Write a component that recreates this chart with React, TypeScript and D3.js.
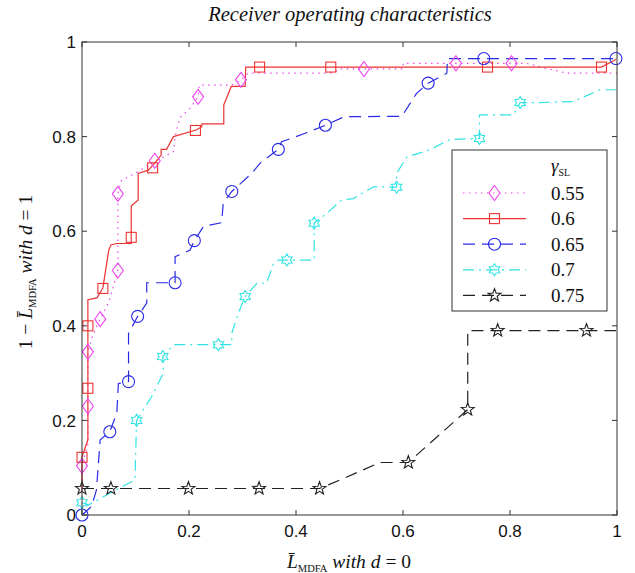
import React from "react";
import * as d3 from "d3";

type P = [number, number];

const title = "Receiver operating characteristics";
const xTicks = [0, 0.2, 0.4, 0.6, 0.8, 1];
const yTicks = [0, 0.2, 0.4, 0.6, 0.8, 1];
const tickLabels = ["0", "0.2", "0.4", "0.6", "0.8", "1"];
const legendLabels = ["0.55", "0.6", "0.65", "0.7", "0.75"];

// gamma_SL = 0.55
const line055: P[] = [
  [0, 0.06], [0, 0.104], [0.011, 0.15], [0.011, 0.345], [0.02, 0.38], [0.034, 0.414], [0.05, 0.45],
  [0.067, 0.517], [0.067, 0.68], [0.074, 0.708], [0.099, 0.722], [0.13, 0.744], [0.171, 0.768],
  [0.174, 0.8], [0.183, 0.84], [0.202, 0.86], [0.217, 0.884], [0.219, 0.909], [0.28, 0.909],
  [0.297, 0.92], [0.311, 0.934], [0.47, 0.934], [0.48, 0.943], [0.6, 0.943], [0.6, 0.955],
  [0.83, 0.955], [0.906, 0.934], [1, 0.934],
];
const mark055: P[] = [
  [0, 0.104], [0.011, 0.23], [0.011, 0.345], [0.034, 0.414], [0.067, 0.517], [0.067, 0.679],
  [0.136, 0.749], [0.217, 0.884], [0.297, 0.92], [0.527, 0.943], [0.699, 0.955], [0.803, 0.955],
];

// gamma_SL = 0.6
const line060: P[] = [
  [0, 0.05], [0, 0.123], [0.011, 0.159], [0.011, 0.455], [0.028, 0.459], [0.039, 0.48],
  [0.05, 0.56], [0.054, 0.571], [0.065, 0.574], [0.092, 0.574], [0.092, 0.653], [0.105, 0.666],
  [0.105, 0.722], [0.124, 0.729], [0.136, 0.744], [0.148, 0.761], [0.148, 0.773], [0.158, 0.773],
  [0.171, 0.8], [0.213, 0.814], [0.224, 0.821], [0.224, 0.827], [0.265, 0.827], [0.265, 0.867],
  [0.279, 0.906], [0.305, 0.906], [0.306, 0.947], [0.971, 0.947], [0.998, 0.963],
];
const mark060: P[] = [
  [0, 0.122], [0.011, 0.268], [0.011, 0.4], [0.039, 0.479], [0.092, 0.587], [0.132, 0.734],
  [0.212, 0.813], [0.332, 0.947], [0.465, 0.947], [0.758, 0.947], [0.971, 0.947],
];

// gamma_SL = 0.65
const line065: P[] = [
  [0, 0], [0.018, 0.018], [0.027, 0.053], [0.034, 0.159], [0.052, 0.176], [0.065, 0.215],
  [0.068, 0.278], [0.087, 0.282], [0.087, 0.384], [0.104, 0.42], [0.121, 0.448], [0.121, 0.491],
  [0.174, 0.491], [0.174, 0.546], [0.202, 0.56], [0.21, 0.58], [0.227, 0.61], [0.261, 0.618],
  [0.264, 0.659], [0.28, 0.684], [0.317, 0.722], [0.333, 0.744], [0.367, 0.773], [0.373, 0.789],
  [0.417, 0.807], [0.455, 0.824], [0.49, 0.842], [0.598, 0.843], [0.625, 0.891], [0.647, 0.913],
  [0.682, 0.934], [0.683, 0.965], [0.751, 0.965], [0.998, 0.965],
];
const mark065: P[] = [
  [0, 0], [0.052, 0.176], [0.087, 0.282], [0.104, 0.42], [0.174, 0.491], [0.21, 0.58],
  [0.28, 0.684], [0.367, 0.773], [0.455, 0.824], [0.647, 0.913], [0.751, 0.965], [0.998, 0.965],
];

// gamma_SL = 0.7
const line070: P[] = [
  [0, 0.026], [0.012, 0.021], [0.068, 0.056], [0.099, 0.074], [0.102, 0.2], [0.13, 0.25],
  [0.152, 0.3], [0.151, 0.335], [0.171, 0.36], [0.28, 0.36], [0.28, 0.384], [0.292, 0.426],
  [0.305, 0.462], [0.327, 0.49], [0.345, 0.49], [0.358, 0.532], [0.367, 0.539], [0.434, 0.539],
  [0.434, 0.617], [0.46, 0.64], [0.485, 0.666], [0.507, 0.669], [0.545, 0.694], [0.588, 0.693],
  [0.588, 0.722], [0.607, 0.757], [0.65, 0.772], [0.688, 0.794], [0.743, 0.796], [0.743, 0.846],
  [0.806, 0.846], [0.819, 0.872], [0.856, 0.872], [0.918, 0.874], [0.968, 0.899], [1, 0.899],
];
const mark070: P[] = [
  [0, 0.026], [0.102, 0.2], [0.151, 0.335], [0.255, 0.36], [0.305, 0.462], [0.383, 0.539],
  [0.434, 0.617], [0.588, 0.693], [0.743, 0.796], [0.819, 0.872],
];

// gamma_SL = 0.75
const line075: P[] = [
  [0, 0.056], [0.444, 0.056], [0.482, 0.074], [0.557, 0.111], [0.61, 0.111], [0.721, 0.223],
  [0.721, 0.39], [0.777, 0.39], [0.998, 0.39],
];
const mark075: P[] = [
  [0, 0.056], [0.054, 0.056], [0.199, 0.056], [0.331, 0.056], [0.444, 0.056], [0.61, 0.111],
  [0.721, 0.223], [0.777, 0.39], [0.943, 0.39],
];

const series = [
  { line: line055, marks: mark055, color: "#ee44ee", dash: "1.5,4.5", marker: "diamond" },
  { line: line060, marks: mark060, color: "#ee3333", dash: "none", marker: "square" },
  { line: line065, marks: mark065, color: "#2a2ae6", dash: "12,7", marker: "circle" },
  { line: line070, marks: mark070, color: "#33e3e3", dash: "11,5,2,5", marker: "hexagram" },
  { line: line075, marks: mark075, color: "#222222", dash: "12,7", marker: "pentagram" },
];

const W = 635;
const H = 573;
const M = { left: 82, right: 617, top: 42, bottom: 515 };

function starPath(n: number, ro: number, ri: number) {
  const pts: string[] = [];
  for (let i = 0; i < 2 * n; i++) {
    const r = i % 2 === 0 ? ro : ri;
    const a = -Math.PI / 2 + (i * Math.PI) / n;
    pts.push(`${(r * Math.cos(a)).toFixed(2)},${(r * Math.sin(a)).toFixed(2)}`);
  }
  return "M" + pts.join("L") + "Z";
}

function Marker({ type, x, y, color }: { type: string; x: number; y: number; color: string }) {
  const common = { fill: "none", stroke: color, strokeWidth: 1.1 };
  if (type === "square") return <rect x={x - 5} y={y - 5} width={10} height={10} {...common} />;
  if (type === "circle") return <circle cx={x} cy={y} r={6} {...common} />;
  if (type === "diamond")
    return <path d={`M${x},${y - 7.5}L${x + 5.5},${y}L${x},${y + 7.5}L${x - 5.5},${y}Z`} {...common} />;
  if (type === "hexagram")
    return <path transform={`translate(${x},${y})`} d={starPath(6, 6, 3.6)} {...common} />;
  return <path transform={`translate(${x},${y})`} d={starPath(5, 6.8, 2.8)} {...common} />;
}

export default function App() {
  const x = d3.scaleLinear().domain([0, 1]).range([M.left, M.right]);
  const y = d3.scaleLinear().domain([0, 1]).range([M.bottom, M.top]);
  const line = d3
    .line<P>()
    .x((d) => x(d[0]))
    .y((d) => y(d[1]));

  const serif = "'Liberation Serif', 'Times New Roman', serif";
  const sans = "'Liberation Sans', Arial, sans-serif";
  const axisColor = "#333";

  const lg = { x0: 452, y0: 150, x1: 607, y1: 311 };
  const lgRow0 = 193;
  const lgStep = 25.6;

  return (
    <svg width={W} height={H} style={{ position: "absolute", left: 0, top: 0, background: "#fff" }}>
      <rect x={0} y={0} width={W} height={H} fill="#fff" />
      <text x={350} y={21} textAnchor="middle" fontFamily={serif} fontStyle="italic" fontSize={20.5} fill="#111">
        {title}
      </text>

      {/* series lines */}
      {series.map((s, i) => (
        <path
          key={"l" + i}
          d={line(s.line) || ""}
          fill="none"
          stroke={s.color}
          strokeWidth={1.2}
          strokeDasharray={s.dash}
        />
      ))}
      {series.map((s, i) =>
        s.marks.map((m, j) => <Marker key={`m${i}-${j}`} type={s.marker} x={x(m[0])} y={y(m[1])} color={s.color} />)
      )}

      {/* axes box */}
      <rect
        x={M.left}
        y={M.top}
        width={M.right - M.left}
        height={M.bottom - M.top}
        fill="none"
        stroke={axisColor}
        strokeWidth={1}
      />
      {xTicks.map((t, i) => (
        <g key={"xt" + i}>
          <line x1={x(t)} x2={x(t)} y1={M.bottom} y2={M.bottom - 5} stroke={axisColor} />
          <line x1={x(t)} x2={x(t)} y1={M.top} y2={M.top + 5} stroke={axisColor} />
          <text x={x(t)} y={M.bottom + 22} textAnchor="middle" fontFamily={sans} fontSize={17} fill="#111">
            {tickLabels[i]}
          </text>
        </g>
      ))}
      {yTicks.map((t, i) => (
        <g key={"yt" + i}>
          <line x1={M.left} x2={M.left + 5} y1={y(t)} y2={y(t)} stroke={axisColor} />
          <line x1={M.right} x2={M.right - 5} y1={y(t)} y2={y(t)} stroke={axisColor} />
          <text x={M.left - 6} y={y(t)} dy="0.36em" textAnchor="end" fontFamily={sans} fontSize={17} fill="#111">
            {tickLabels[i]}
          </text>
        </g>
      ))}

      {/* x label */}
      <text x={349} y={568} textAnchor="middle" fontFamily={serif} fontSize={19.5} fill="#111">
        <tspan fontStyle="italic">L̄</tspan>
        <tspan fontSize={10.5} dy={4}>MDFA</tspan>
        <tspan dy={-4} fontStyle="italic">{" with d"}</tspan>
        <tspan>{" = 0"}</tspan>
      </text>

      {/* y label */}
      <text
        transform={`translate(32,272) rotate(-90)`}
        textAnchor="middle"
        fontFamily={serif}
        fontSize={19.5}
        fill="#111"
      >
        <tspan>{"1 − "}</tspan>
        <tspan fontStyle="italic">L̄</tspan>
        <tspan fontSize={10.5} dy={4}>MDFA</tspan>
        <tspan dy={-4} fontStyle="italic">{" with d"}</tspan>
        <tspan>{" = 1"}</tspan>
      </text>

      {/* legend */}
      <rect x={lg.x0} y={lg.y0} width={lg.x1 - lg.x0} height={lg.y1 - lg.y0} fill="#fff" stroke={axisColor} />
      <text x={551} y={172} fontFamily={serif} fontSize={19} fill="#111">
        <tspan fontStyle="italic">γ</tspan>
        <tspan fontSize={10} dy={4}>SL</tspan>
      </text>
      {series.map((s, i) => {
        const yy = lgRow0 + i * lgStep;
        return (
          <g key={"lg" + i}>
            <line x1={463} x2={526} y1={yy} y2={yy} stroke={s.color} strokeWidth={1.2} strokeDasharray={s.dash} />
            <Marker type={s.marker} x={494.5} y={yy} color={s.color} />
            <text x={551} y={yy} dy="0.35em" fontFamily={serif} fontSize={19} fill="#111">
              {legendLabels[i]}
            </text>
          </g>
        );
      })}
    </svg>
  );
}
